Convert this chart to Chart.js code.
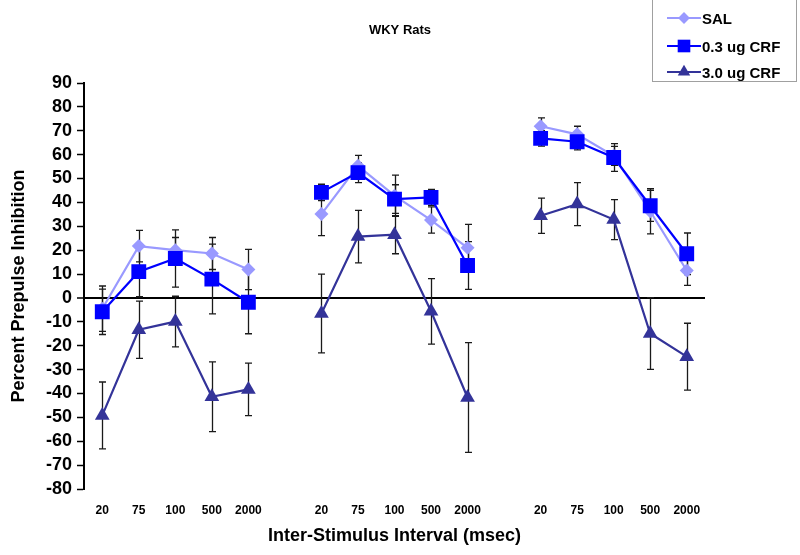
<!DOCTYPE html>
<html><head><meta charset="utf-8">
<script src="https://cdn.jsdelivr.net/npm/chart.js@4"></script>
<style>
html,body{margin:0;padding:0;background:#fff;}
#wrap{position:relative;width:800px;height:555px;}
#legend{position:absolute;left:652px;top:-1px;width:145px;height:83px;border:1px solid #a0a0a0;box-sizing:border-box;background:#fff;font:bold 15px 'Liberation Sans',Arial,sans-serif;color:#000;}
.row{position:absolute;left:14px;height:20px;display:flex;align-items:center;white-space:nowrap;}
.row canvas{margin-right:1px;}
</style></head><body>
<div id="wrap"><canvas id="c" width="800" height="555"></canvas><div id="legend"></div></div>
<script>
const categories = ['20','75','100','500','2000','','20','75','100','500','2000','','20','75','100','500','2000'];
const seriesNames = ['SAL','0.3 ug CRF','3.0 ug CRF'];
const salValues  = [-4.5, 21.7, 20, 18.6, 11.9, null, 35.1, 55.3, 42.8, 32.6, 21, null, 71.9, 68.5, 59.5, 36.3, 11.5];
const salErrors  = [9.5, 6.6, 5.3, 6.7, 8.4, null, 9, 4.4, 8.6, 5.5, 9.8, null, 3.5, 3.4, 4, 9.5, 6.2];
const crf03Values = [-5.8, 11, 16.5, 7.9, -1.8, null, 44.2, 52.5, 41.4, 42.1, 13.6, null, 66.8, 65.4, 58.8, 38.6, 18.5];
const crf03Errors = [9.5, 10.5, 12, 14.6, 13.2, null, 3.4, 4.2, 6, 3.3, 10, null, 3.2, 3.4, 5.8, 6.5, 8.7];
const crf30Values = [-49.2, -13.3, -9.9, -41.4, -38.3, null, -6.5, 25.7, 26.5, -5.6, -41.7, null, 34.4, 39.3, 32.8, -14.9, -24.6];
const crf30Errors = [14, 12, 10.6, 14.6, 11, null, 16.5, 11, 8, 13.7, 23, null, 7.4, 9, 8.4, 15, 14];
const yTicks = {min:-80, max:90, step:10};
const chartTitle = 'WKY Rats';

const FONT = "'Liberation Sans', Arial, sans-serif";
const styles = [
  {color:'#9999ff', pointStyle:'rectRot', radius:7},
  {color:'#0000ff', pointStyle:'rect', radius:10.5},
  {color:'#333399', pointStyle:'triangle', radius:8.5}
];
const values = [salValues, crf03Values, crf30Values];
const errors = [salErrors, crf03Errors, crf30Errors];

const errorBars = {
  id:'errorBars',
  beforeDatasetsDraw(chart){
    const {ctx, scales:{x,y}} = chart;
    ctx.save();
    ctx.strokeStyle='#1a1a1a'; ctx.lineWidth=1.3;
    values.forEach((vals,i)=>{
      vals.forEach((v,j)=>{
        const e = errors[i][j];
        if(v==null||e==null) return;
        const px = Math.round(x.getPixelForValue(j))+0.5;
        const t = y.getPixelForValue(v+e), b = y.getPixelForValue(v-e);
        ctx.beginPath();
        ctx.moveTo(px,t); ctx.lineTo(px,b);
        ctx.moveTo(px-3.5,t); ctx.lineTo(px+3.5,t);
        ctx.moveTo(px-3.5,b); ctx.lineTo(px+3.5,b);
        ctx.stroke();
      });
    });
    ctx.restore();
  }
};

const titlePlugin = {
  id:'pageTitle',
  afterDraw(chart){
    const ctx = chart.ctx;
    ctx.save();
    ctx.font = 'bold 13px ' + FONT;
    ctx.fillStyle = '#000';
    ctx.textAlign = 'center'; ctx.textBaseline = 'middle';
    ctx.fillText(chartTitle, 400, 30);
    ctx.restore();
  }
};

const datasets = values.map((vals,i)=>({
  label: seriesNames[i],
  data: vals,
  borderColor: styles[i].color,
  backgroundColor: styles[i].color,
  borderWidth: 2.2,
  pointStyle: styles[i].pointStyle,
  pointRadius: styles[i].radius,
  pointHoverRadius: styles[i].radius,
  pointBorderWidth: 0,
  spanGaps: false,
  tension: 0,
  order: 3 - i
}));

new Chart(document.getElementById('c'), {
  type:'line',
  data:{labels:categories, datasets},
  options:{
    responsive:false, devicePixelRatio:1, animation:false,
    layout:{padding:{top:83,right:95,bottom:0,left:0}},
    plugins:{ legend:{display:false}, tooltip:{enabled:false}, title:{display:false} },
    scales:{
      x:{
        offset:true,
        grid:{display:false, drawTicks:false},
        border:{display:false},
        ticks:{autoSkip:false, maxRotation:0, color:'#000', padding:14, font:{family:FONT, size:12, weight:'bold'}},
        title:{display:true, text:'Inter-Stimulus Interval (msec)', color:'#000', font:{family:FONT, size:18, weight:'bold'}, padding:{top:0,bottom:8}},
        afterFit(s){ s.height = 66; }
      },
      y:{
        min:yTicks.min, max:yTicks.max,
        ticks:{stepSize:yTicks.step, autoSkip:false, color:'#000', padding:5, font:{family:FONT, size:18, weight:'bold'}},
        grid:{
          color:c=> c.tick && c.tick.value===0 ? '#000' : 'rgba(0,0,0,0)',
          lineWidth:c=> c.tick && c.tick.value===0 ? 2 : 1,
          tickColor:'#000', tickLength:7, tickWidth:1.5, drawTicks:true
        },
        border:{display:true, color:'#000', width:2},
        title:{display:true, text:'Percent Prepulse Inhibition', color:'#000', font:{family:FONT, size:18, weight:'bold'}, padding:{top:8,bottom:0}},
        afterFit(s){ s.width = 84; }
      }
    }
  },
  plugins:[errorBars, titlePlugin]
});

// legend
const legend = document.getElementById('legend');
const rowTops = [8, 36, 62];
seriesNames.forEach((name,i)=>{
  const row = document.createElement('div');
  row.className='row'; row.style.top = rowTops[i]+'px';
  const cv = document.createElement('canvas'); cv.width=34; cv.height=20;
  const g = cv.getContext('2d');
  g.strokeStyle = styles[i].color; g.lineWidth=2.2;
  g.beginPath(); g.moveTo(0,10); g.lineTo(34,10); g.stroke();
  g.fillStyle = styles[i].color;
  const r = styles[i].radius*0.85;
  g.beginPath();
  if(styles[i].pointStyle==='rect'){ const s=r*Math.SQRT1_2; g.rect(17-s,10-s,2*s,2*s); }
  else if(styles[i].pointStyle==='rectRot'){ g.moveTo(17,10-r); g.lineTo(17+r,10); g.lineTo(17,10+r); g.lineTo(17-r,10); g.closePath(); }
  else { g.moveTo(17,10-r); g.lineTo(17+r*0.866,10+r*0.5); g.lineTo(17-r*0.866,10+r*0.5); g.closePath(); }
  g.fill();
  row.appendChild(cv);
  const sp = document.createElement('span'); sp.textContent = name;
  row.appendChild(sp);
  legend.appendChild(row);
});
</script>
</body></html>
